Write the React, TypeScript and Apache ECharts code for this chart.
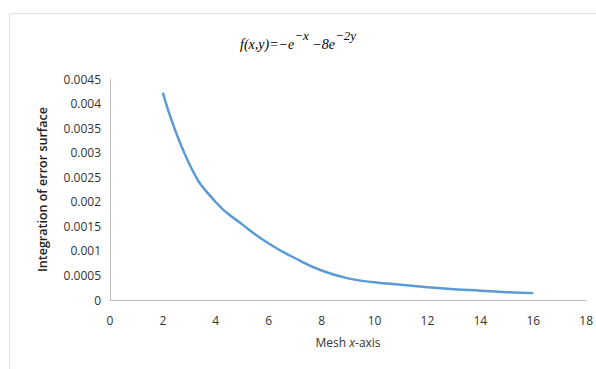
import React, { useEffect, useRef } from "react";
import * as echarts from "echarts";

const meshX = [2, 3, 4, 5, 6, 7, 8, 9, 10, 11, 12, 13, 14, 15, 16];
const errorIntegral = [
  0.00422, 0.00277, 0.00199, 0.00154, 0.00115, 0.00085, 0.0006, 0.00044,
  0.00036, 0.00031, 0.00026, 0.00022, 0.00019, 0.00016, 0.00014,
];
const xTicks = { min: 0, max: 18, interval: 2 };
const yTicks = { min: 0, max: 0.0045, interval: 0.0005 };

export default function App() {
  const ref = useRef<HTMLDivElement>(null);
  useEffect(() => {
    if (!ref.current) return;
    const chart = echarts.init(ref.current, null, { renderer: "svg" });
    const labelFont = "Open Sans, Noto Sans, sans-serif";
    const labelColor = "#333333";
    const serif = "Liberation Serif, Times New Roman, serif";
    chart.setOption({
      animation: false,
      backgroundColor: "#ffffff",
      title: {
        text: "{f|f(x,y)=−e}{s|−x}{f| −8e}{s|−2y}",
        left: "center",
        top: 24,
        textStyle: {
          fontWeight: "normal",
          rich: {
            f: { fontFamily: serif, fontStyle: "italic", fontWeight: "normal", fontSize: 14, color: "#000", verticalAlign: "bottom", lineHeight: 22 },
            s: { fontFamily: serif, fontStyle: "italic", fontWeight: "normal", fontSize: 13, color: "#000", verticalAlign: "top", lineHeight: 22, padding: [0, 0, 8, 0] },
          },
        },
      },
      graphic: [
        { type: "line", shape: { x1: 9.5, y1: 13.5, x2: 596, y2: 13.5 }, style: { stroke: "#e2e2e2", lineWidth: 1 } },
        { type: "line", shape: { x1: 9.5, y1: 13.5, x2: 9.5, y2: 369 }, style: { stroke: "#e2e2e2", lineWidth: 1 } },
      ],
      grid: { left: 110, right: 9, top: 79, bottom: 69 },
      xAxis: {
        type: "value",
        min: xTicks.min,
        max: xTicks.max,
        interval: xTicks.interval,
        name: "Mesh {i|x}-axis",
        nameLocation: "middle",
        nameGap: 36,
        nameTextStyle: {
          fontFamily: labelFont,
          fontSize: 12,
          color: labelColor,
          rich: { i: { fontStyle: "italic", fontFamily: labelFont, fontSize: 12, color: labelColor } },
        },
        axisLine: { show: true, lineStyle: { color: "#bfbfbf", width: 1 } },
        axisTick: { show: false },
        splitLine: { show: false },
        axisLabel: { fontFamily: labelFont, fontSize: 12, color: labelColor, margin: 14 },
      },
      yAxis: {
        type: "value",
        min: yTicks.min,
        max: yTicks.max,
        interval: yTicks.interval,
        name: "Integration of error surface",
        nameLocation: "middle",
        nameGap: 61,
        nameTextStyle: { fontFamily: labelFont, fontSize: 12.5, fontWeight: 600, color: "#222" },
        axisLine: { show: true, lineStyle: { color: "#bfbfbf", width: 1 } },
        axisTick: { show: false },
        splitLine: { show: false },
        axisLabel: {
          fontFamily: labelFont,
          fontSize: 12,
          color: labelColor,
          margin: 9,
          formatter: (v: number) => String(parseFloat(v.toFixed(4))),
        },
      },
      series: [
        {
          type: "line",
          data: meshX.map((x, i) => [x, errorIntegral[i]]),
          smooth: 0.5,
          smoothMonotone: "none",
          showSymbol: false,
          lineStyle: { color: "#5B9BD5", width: 2.5 },
        },
      ],
    });
    return () => chart.dispose();
  }, []);
  return <div ref={ref} style={{ position: "fixed", left: 0, top: 0, width: 596, height: 369 }} />;
}
